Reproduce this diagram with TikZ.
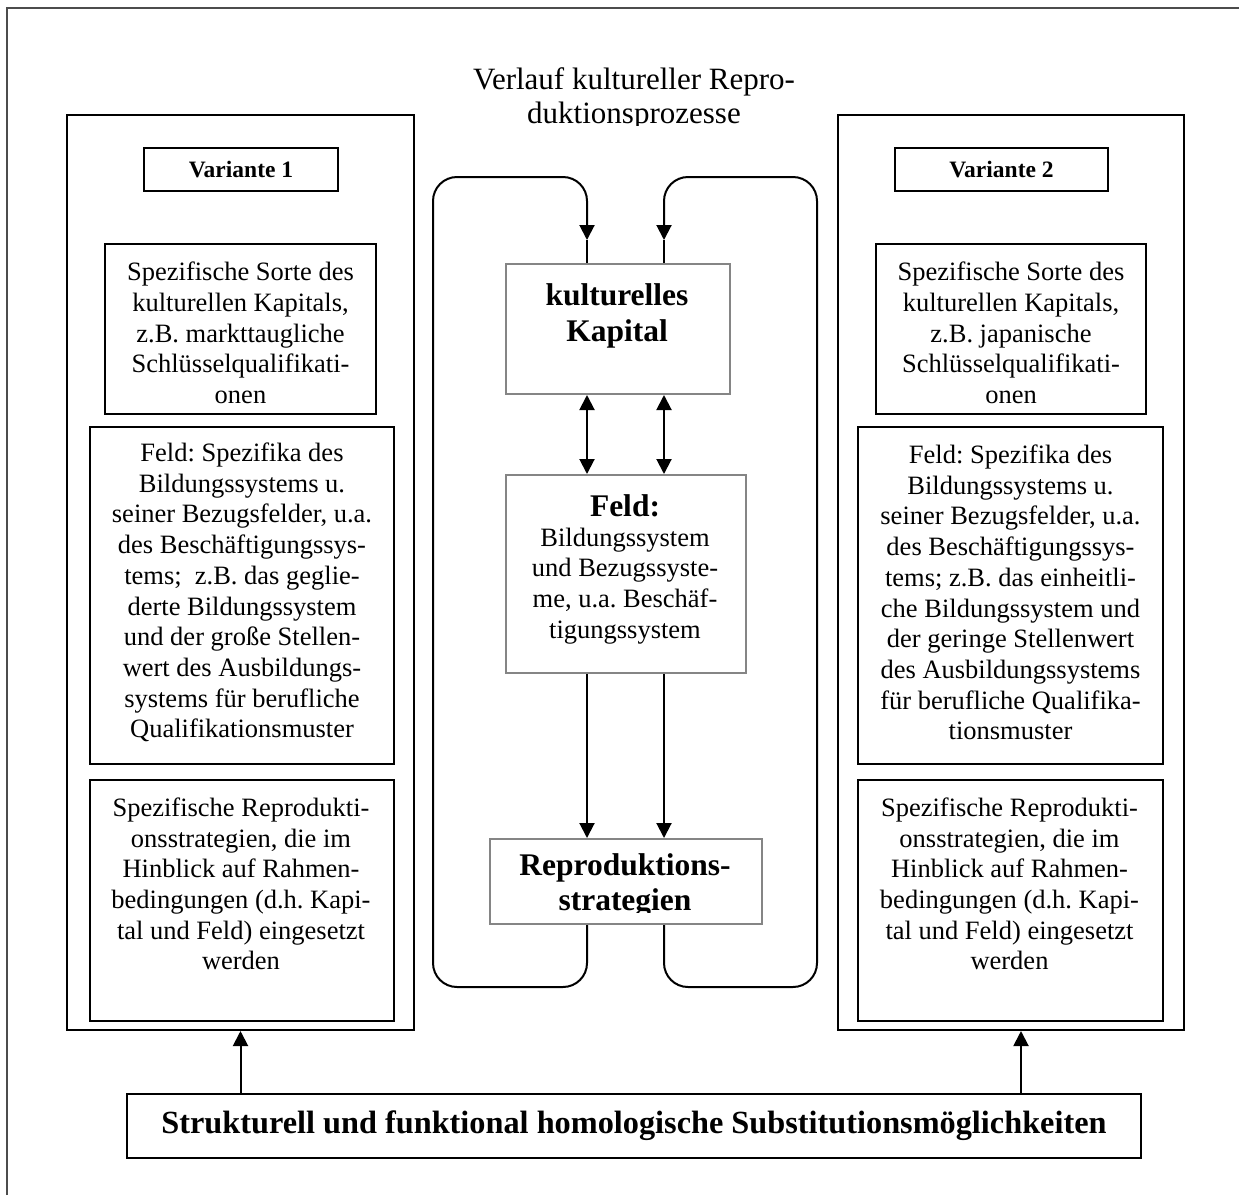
\documentclass[tikz,border=0pt]{standalone}
\usepackage{fontspec}
\setmainfont{Liberation Serif}
\usetikzlibrary{arrows.meta}
\frenchspacing
\begin{document}
\begin{tikzpicture}[x=1pt,y=-1pt,
  blk/.style={draw=black, line width=2pt, rectangle, inner sep=0pt, anchor=north west},
  gbox/.style={draw=black!48, line width=2pt, rectangle, inner sep=0pt, anchor=north west},
  body/.style={align=center, inner sep=0pt, font=\fontsize{26.5}{30.7}\selectfont},
  bbody/.style={align=center, inner sep=0pt, font=\fontsize{31.5}{35.5}\selectfont\bfseries},
  vbody/.style={align=center, inner sep=0pt, font=\fontsize{23.5}{27}\selectfont\bfseries},
  conn/.style={line width=2pt},
  arr/.style={line width=2pt, -{Triangle[length=15pt,width=15pt]}},
  darr/.style={line width=2pt, {Triangle[length=15pt,width=15pt]}-{Triangle[length=15pt,width=15pt]}},
]
\useasboundingbox (0,0) rectangle (1239,1195);
\fill[white] (0,0) rectangle (1239,1195);
% frame
\draw[line width=1.5pt, black!70] (7,1195) -- (7,8) -- (1239,8);
% title (clipped at the bottom)
\begin{scope}
\clip (430,40) rectangle (840,125);
\node[align=center, inner sep=0pt, font=\fontsize{31}{34}\selectfont] (title) at (634,98.75) {Verlauf kultureller Repro-\\duktionsprozesse};
\end{scope}
% left column
\node[blk, minimum width=347pt, minimum height=915pt] (outL) at (66,114) {};
\node[blk, minimum width=194pt, minimum height=43pt] (varL) at (143,147) {};
\node[vbody] (varLt) at (varL.center) {Variante 1};
\node[blk, minimum width=271pt, minimum height=170pt] (spezL) at (104,243) {};
\node[body] (spezLt) at ([yshift=-4pt]spezL.center) {Spezifische Sorte des\\kulturellen Kapitals,\\z.B. markttaugliche\\Schlüsselqualifikati-\\onen};
\node[blk, minimum width=304pt, minimum height=337pt] (feldL) at (89,426) {};
\node[body] (feldLt) at ([yshift=3pt]feldL.center) {Feld: Spezifika des\\Bildungssystems u.\\seiner Bezugsfelder, u.a.\\des Beschäftigungssys-\\tems;\ \ z.B. das geglie-\\derte Bildungssystem\\und der große Stellen-\\wert des Ausbildungs-\\systems für berufliche\\Qualifikationsmuster};
\node[blk, minimum width=304pt, minimum height=241pt] (stratL) at (89,779) {};
\node[body] (stratLt) at (241,884) {Spezifische Reprodukti-\\onsstrategien, die im\\Hinblick auf Rahmen-\\bedingungen (d.h. Kapi-\\tal und Feld) eingesetzt\\werden};
% right column
\node[blk, minimum width=346pt, minimum height=915pt] (outR) at (837,114) {};
\node[blk, minimum width=213pt, minimum height=43pt] (varR) at (894,147) {};
\node[vbody] (varRt) at (varR.center) {Variante 2};
\node[blk, minimum width=270pt, minimum height=170pt] (spezR) at (875,243) {};
\node[body] (spezRt) at ([yshift=-4pt]spezR.center) {Spezifische Sorte des\\kulturellen Kapitals,\\z.B. japanische\\Schlüsselqualifikati-\\onen};
\node[blk, minimum width=305pt, minimum height=337pt] (feldR) at (857,426) {};
\node[body] (feldRt) at ([yshift=3pt]feldR.center) {Feld: Spezifika des\\Bildungssystems u.\\seiner Bezugsfelder, u.a.\\des Beschäftigungssys-\\tems; z.B. das einheitli-\\che Bildungssystem und\\der geringe Stellenwert\\des Ausbildungssystems\\für berufliche Qualifika-\\tionsmuster};
\node[blk, minimum width=305pt, minimum height=241pt] (stratR) at (857,779) {};
\node[body] (stratRt) at (1009.5,884) {Spezifische Reprodukti-\\onsstrategien, die im\\Hinblick auf Rahmen-\\bedingungen (d.h. Kapi-\\tal und Feld) eingesetzt\\werden};
% centre
\node[gbox, minimum width=224pt, minimum height=130pt] (kap) at (505,263) {};
\node[bbody] (kapt) at (617,316) {kulturelles\\Kapital};
\node[gbox, minimum width=240pt, minimum height=198pt] (feldM) at (505,474) {};
\node[bbody] (feldMh) at (625,506) {Feld:};
\node[body] (feldMt) at (625,586) {Bildungssystem\\und Bezugssyste-\\me, u.a. Beschäf-\\tigungssystem};
\node[gbox, minimum width=272pt, minimum height=85pt] (repro) at (489,838) {};
\begin{scope}
\clip (489,838) rectangle (761,912);
\node[bbody] (reprot) at (625,885.5) {Reproduktions-\\strategien};
\end{scope}
\coordinate (lx) at (587,0);
\coordinate (rx) at (664,0);
\coordinate (tipL) at (587,240);
\coordinate (tipR) at (664,240);
\draw[darr] (kap.south -| lx) -- (feldM.north -| lx);
\draw[darr] (kap.south -| rx) -- (feldM.north -| rx);
\draw[arr] (feldM.south -| lx) -- (repro.north -| lx);
\draw[arr] (feldM.south -| rx) -- (repro.north -| rx);
\draw[arr, rounded corners=24pt] (repro.south -| lx) -- (587,987) -- (433,987) -- (433,177) -- (587,177) -- (tipL);
\draw[conn] (tipL) -- (kap.north -| lx);
\draw[arr, rounded corners=24pt] (repro.south -| rx) -- (664,987) -- (817,987) -- (817,177) -- (664,177) -- (tipR);
\draw[conn] (tipR) -- (kap.north -| rx);
% bottom
\node[blk, minimum width=1014pt, minimum height=64pt] (subst) at (126,1093) {};
\node[bbody, font=\fontsize{32.3}{36}\selectfont\bfseries] (substt) at (subst.center) {Strukturell und funktional homologische Substitutionsmöglichkeiten};
\coordinate (arrL) at (outL.south);
\coordinate (arrR) at ([xshift=10pt]outR.south);
\draw[arr] (subst.north -| arrL) -- (arrL);
\draw[arr] (subst.north -| arrR) -- (arrR);
\end{tikzpicture}
\end{document}
